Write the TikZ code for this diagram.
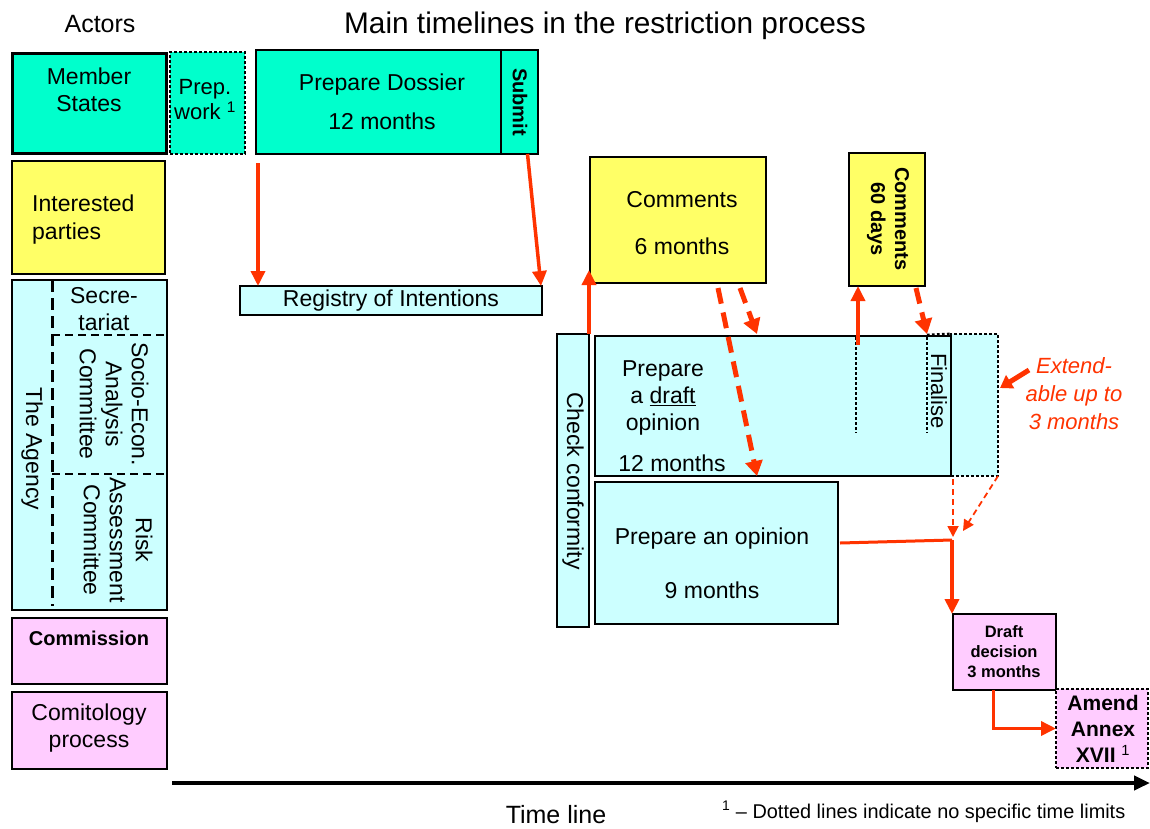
\documentclass[tikz,border=0pt]{standalone}
\usepackage{fontspec}
\setmainfont{Liberation Sans}
\usetikzlibrary{arrows.meta, calc, positioning}

\definecolor{msteal}{HTML}{00FFCC}
\definecolor{ipyellow}{HTML}{FFFF66}
\definecolor{agcyan}{HTML}{CCFFFF}
\definecolor{cmpink}{HTML}{FFCCFF}
\definecolor{flowred}{HTML}{FF3300}

\newcommand{\fsz}[2]{\fontsize{#1}{#2}\selectfont}

\tikzset{
  box/.style={draw, line width=2.2pt, inner sep=0pt, outer sep=0pt, anchor=north west},
  dotbox/.style={box, line width=2.8pt, dash pattern=on 2.6pt off 2.4pt},
  dotline/.style={line width=2.8pt, dash pattern=on 2.6pt off 2.4pt},
  txt/.style={inner sep=0pt, align=center, font=\fsz{23}{27}},
  boldtxt/.style={txt, font=\fsz{20}{24}\bfseries},
  redarrow/.style={flowred, line width=3.5pt, -{Triangle[length=15pt,width=14pt]}},
  reddash/.style={flowred, line width=5pt, dash pattern=on 16pt off 9pt, -{Triangle[length=15pt,width=17pt]}},
  thindash/.style={flowred, line width=1.8pt, dash pattern=on 6pt off 4pt, -{Triangle[length=11pt,width=11pt]}},
}

\begin{document}
\begin{tikzpicture}[x=1pt, y=-1pt]
\useasboundingbox (0,0) rectangle (1150,828);

% headings
\node[txt, font=\fsz{25}{30}] (actors) at (100,24) {Actors};
\node[txt, font=\fsz{29.8}{34}] (title) at (605,26) {Main timelines in the restriction process};

% actors column
\node[box, fill=msteal, line width=3pt, minimum width=154pt, minimum height=100pt] (members) at (12,53) {};
\node[txt] (members-t) at (89,90) {Member\\States};
\node[box, fill=ipyellow, minimum width=153pt, minimum height=113pt] (parties) at (12,161) {};
\node[txt, anchor=west, align=left, font=\fsz{23}{28}] (parties-t) at (32,220) {Interested\\parties};

\node[box, fill=agcyan, minimum width=155pt, minimum height=330pt] (agency) at (12,280) {};
\draw[line width=3pt, dash pattern=on 12pt off 6pt] ($(agency.north west)+(40,0)$) -- ($(agency.south west)+(40,-4)$);
\draw[line width=2.5pt, dash pattern=on 8pt off 5pt] ($(agency.north west)+(40,55)$) -- ($(agency.north east)+(0,55)$);
\draw[line width=2.5pt, dash pattern=on 8pt off 5pt] ($(agency.north west)+(40,194)$) -- ($(agency.north east)+(0,194)$);
\node[txt] (secr-t) at (104,309) {Secre-\\tariat};
\node[txt, rotate=-90] (agency-t) at (32,449) {The Agency};
\node[txt, font=\fsz{23}{26}, rotate=-90] (seac-t) at (114,404) {Socio-Econ.\\Analysis\\Committee};
\node[txt, font=\fsz{23}{26}, rotate=-90] (rac-t) at (118,540) {Risk\\Assessment\\Committee};

\node[box, fill=cmpink, minimum width=155pt, minimum height=66pt] (commission) at (12,618) {};
\node[boldtxt] (commission-t) at (89,638) {Commission};
\node[box, fill=cmpink, minimum width=155pt, minimum height=77pt] (comitology) at (12,692) {};
\node[txt] (comitology-t) at (89,728) {Comitology\\process};

% member states row
\node[dotbox, fill=msteal, minimum width=75pt, minimum height=102pt] (prep) at (170,52) {};
\node[txt, font=\fsz{22}{25}] (prep-t) at (205,100) {Prep.\\work \textsuperscript{1}};
\node[box, fill=msteal, minimum width=245pt, minimum height=104pt] (dossier) at (256,50) {};
\node[txt] (dossier-t) at (382,102) {Prepare Dossier\\[12pt]12 months};
\node[box, fill=msteal, minimum width=37pt, minimum height=104pt] (submit) at (501,50) {};
\node[boldtxt, rotate=-90] (submit-t) at (520,102) {Submit};

% registry
\node[box, fill=agcyan, minimum width=302pt, minimum height=29pt] (registry) at (240,286) {};
\node[txt] (registry-t) at (391,301) {Registry of Intentions};
\draw[redarrow] ($(dossier.south west)+(2,9)$) -- ($(registry.north west)+(18,0)$);
\draw[redarrow] ($(submit.south)+(8,0)$) -- ($(registry.north east)+(-1,0)$);

% comments
\node[box, fill=ipyellow, minimum width=176pt, minimum height=126pt] (comments6) at (590,157) {};
\node[txt] (comments6-t) at (682,223) {Comments\\[20pt]6 months};
\node[box, fill=ipyellow, minimum width=76pt, minimum height=133pt] (comments60) at (849,153) {};
\node[boldtxt, rotate=-90] (comments60-t) at (888,219) {Comments\\60 days};

% agency work
\node[box, fill=agcyan, minimum width=32pt, minimum height=293pt] (check) at (557,334) {};
\node[txt, rotate=-90] (check-t) at (573,481) {Check conformity};
\node[dotbox, fill=agcyan, minimum width=47pt, minimum height=142pt] (ext) at (951,334) {};
\node[box, fill=agcyan, minimum width=356pt, minimum height=140pt] (draft) at (595,336) {};
\node[txt] (draft-t) at (663,398) {Prepare\\a \underline{draft}\\opinion};
\node[txt] (draft-m) at (672,463) {12 months};
\draw[dotline] ($(draft.north west)+(261,1)$) -- ++(0,96);
\draw[dotline] ($(draft.north west)+(332,1)$) -- ++(0,96);
\draw[dotline] ($(draft.north west)+(332,-1)$) -- (ext.north west);
\node[txt, font=\fsz{22}{26}, rotate=-90] (finalise-t) at (939,391) {Finalise};
\node[box, fill=agcyan, minimum width=243pt, minimum height=142pt] (opinion) at (595,482) {};
\node[txt] (opinion-t) at (712,563) {Prepare an opinion\\[27pt]9 months};

\node[txt, text=flowred, font=\fsz{22}{28}\itshape] (extend-t) at (1074,394) {Extend-\\able up to\\3 months};
\draw[flowred, line width=5pt, -{Triangle[length=12pt,width=15pt]}] ($(ext.east)+(31,-35)$) -- ($(ext.east)+(2,-17)$);

\draw[redarrow] (check.north east) -- ($(comments6.south west)+(-1,-13)$);
\draw[redarrow] ($(draft.north west)+(263,9)$) -- ($(comments60.south west)+(9,0)$);
\draw[reddash] ($(comments6.south)+(40,5)$) -- ($(opinion.north west)+(162,-6)$);
\draw[reddash] ($(comments6.south)+(62,5)$) -- ($(draft.north west)+(162,-2)$);
\draw[reddash] ($(comments60.south east)+(-9,2)$) -- ($(draft.north west)+(332,-2)$);

% commission and comitology
\node[box, fill=cmpink, minimum width=103pt, minimum height=76pt] (decision) at (953,614) {};
\node[boldtxt, font=\fsz{16.5}{20}\bfseries] (decision-t) at (1004,652) {Draft\\decision\\3 months};
\node[dotbox, fill=cmpink, minimum width=92pt, minimum height=79pt] (annex) at (1056,689) {};
\node[boldtxt, font=\fsz{21}{26}\bfseries] (annex-t) at (1103,729) {Amend\\Annex\\XVII {\mdseries\textsuperscript{1}}};

\coordinate (join) at (952,540);
\draw[flowred, line width=3pt] ($(opinion.east)+(2,-10)$) -- (join);
\draw[redarrow, line width=4pt] (join) -- (join |- decision.north);
\draw[thindash] ($(ext.south west)+(2,3)$) -- ($(join)+(1,-3)$);
\draw[thindash] (ext.south east) -- ($(join)+(11,-9)$);
\draw[redarrow] ($(decision.south)+(-11,0)$) |- (annex.west);

% time line
\coordinate (tl-start) at (172,783);
\coordinate (tl-end) at (1150,783);
\draw[line width=4pt, -{Triangle[length=16pt,width=14pt]}] (tl-start) -- (tl-end);
\node[txt, font=\fsz{25}{30}] (timeline-t) at (556,815) {Time line};
\node[txt, anchor=west, font=\fsz{19.9}{23}] (note-t) at (722,812) {\textsuperscript{1} -- Dotted lines indicate no specific time limits};

\end{tikzpicture}
\end{document}
